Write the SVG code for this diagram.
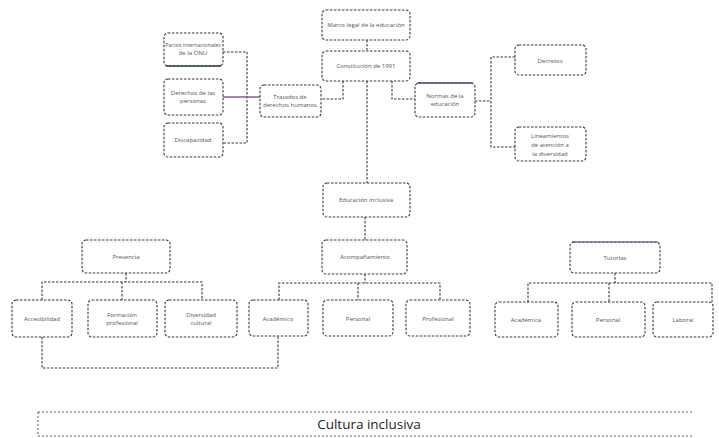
<svg xmlns="http://www.w3.org/2000/svg" width="719" height="438" viewBox="0 0 719 438">
<style>
.b{fill:#fff;stroke:#3a3a3a;stroke-width:1.1;stroke-dasharray:2.5 1.5}
.c{fill:none;stroke:#3a3a3a;stroke-width:1.1;stroke-dasharray:2.5 1.5}
.t{font-family:"Open Sans","DejaVu Sans",sans-serif;font-size:6px;fill:#555;text-anchor:middle}
.big{font-family:"Open Sans","DejaVu Sans",sans-serif;font-size:13.5px;fill:#222;text-anchor:middle}
</style>
<rect width="719" height="438" fill="#fff"/>
<g id="connectors">
<path class="c" d="M367 40V50"/>
<path class="c" d="M343 81V99H321"/>
<path class="c" d="M392 81V99H415"/>
<path class="c" d="M367 81V183"/>
<path class="c" d="M223 52H247V143H223"/>
<path class="c" d="M223 97H260" style="stroke:#8a5a9a;stroke-dasharray:none;stroke-width:1.4"/>
<path class="c" d="M475 101H491"/>
<path class="c" d="M515 57H491V147H515"/>
<path class="c" d="M365 217V240"/>
<path class="c" d="M126 273V282"/>
<path class="c" d="M42 300V282H202V300"/>
<path class="c" d="M122 282V300"/>
<path class="c" d="M365 274V283"/>
<path class="c" d="M279 300V283H440V300"/>
<path class="c" d="M358 283V300"/>
<path class="c" d="M615 273V283"/>
<path class="c" d="M528 302V283H712V302"/>
<path class="c" d="M609 283V302"/>
<path class="c" d="M42 337V368H278V336"/>
</g>
<g id="n-marco"><rect class="b" x="322" y="10" width="88" height="30" rx="4"/><text class="t" x="366" y="27">Marco legal de la educación</text></g>
<g id="n-constitucion"><rect class="b" x="322" y="51" width="88" height="30" rx="4"/><text class="t" x="366" y="68">Constitución de 1991</text></g>
<g id="n-tratados-int"><rect class="b" x="164" y="33" width="59" height="33" rx="4"/><path d="M166 66H221" stroke="#2d4a2d" stroke-width="1.4"/><text class="t" x="193" y="47" style="font-size:5.3px">Pactos internacionales</text><text class="t" x="193" y="55">de la ONU</text></g>
<g id="n-derechos"><rect class="b" x="164" y="79" width="59" height="36" rx="4"/><text class="t" x="193" y="95">Derechos de las</text><text class="t" x="193" y="103">personas</text></g>
<g id="n-discapacidad"><rect class="b" x="164" y="123" width="59" height="34" rx="4"/><text class="t" x="193" y="142">Discapacidad</text></g>
<g id="n-tratados"><rect class="b" x="260" y="85" width="61" height="32" rx="4"/><text class="t" x="290" y="99">Tratados de</text><text class="t" x="290" y="107">derechos humanos</text></g>
<g id="n-normas"><rect class="b" x="415" y="83" width="60" height="34" rx="4"/><path d="M417 83H473" stroke="#4a4a8a" stroke-width="1.3"/><text class="t" x="445" y="98">Normas de la</text><text class="t" x="445" y="106">educación</text></g>
<g id="n-decretos"><rect class="b" x="515" y="45" width="71" height="30" rx="4"/><text class="t" x="550" y="63">Decretos</text></g>
<g id="n-lineamientos"><rect class="b" x="515" y="127" width="71" height="34" rx="4"/><text class="t" x="550" y="138">Lineamientos</text><text class="t" x="550" y="147">de atención a</text><text class="t" x="550" y="156">la diversidad</text></g>
<g id="n-educacion"><rect class="b" x="323" y="183" width="87" height="34" rx="4"/><text class="t" x="366" y="202">Educación inclusiva</text></g>
<g id="n-acompanamiento"><rect class="b" x="322" y="240" width="85" height="34" rx="4"/><text class="t" x="365" y="259">Acompañamiento</text></g>
<g id="n-presencia"><rect class="b" x="82" y="240" width="88" height="33" rx="4"/><text class="t" x="126" y="259">Presencia</text></g>
<g id="n-tutorias"><rect class="b" x="570" y="242" width="90" height="31" rx="4"/><path d="M572 242H658" stroke="#6a4a8a" stroke-width="1.2"/><text class="t" x="615" y="260">Tutorías</text></g>
<g id="n-accesibilidad"><rect class="b" x="12" y="300" width="60" height="37" rx="4"/><text class="t" x="42" y="321">Accesibilidad</text></g>
<g id="n-formacion"><rect class="b" x="88" y="300" width="69" height="37" rx="4"/><text class="t" x="122" y="317">Formación</text><text class="t" x="122" y="325">profesional</text></g>
<g id="n-diversidad"><rect class="b" x="165" y="300" width="72" height="37" rx="4"/><text class="t" x="201" y="317">Diversidad</text><text class="t" x="201" y="325">cultural</text></g>
<g id="n-academico"><rect class="b" x="249" y="300" width="59" height="36" rx="4"/><text class="t" x="278" y="321">Académico</text></g>
<g id="n-personal"><rect class="b" x="323" y="300" width="70" height="36" rx="4"/><text class="t" x="358" y="321">Personal</text></g>
<g id="n-profesional"><rect class="b" x="406" y="300" width="64" height="36" rx="4"/><text class="t" x="438" y="321">Profesional</text></g>
<g id="n-academica"><rect class="b" x="495" y="302" width="63" height="35" rx="4"/><text class="t" x="526" y="322">Académica</text></g>
<g id="n-personal2"><rect class="b" x="572" y="302" width="73" height="35" rx="4"/><text class="t" x="608" y="322">Personal</text></g>
<g id="n-laboral"><rect class="b" x="653" y="302" width="60" height="35" rx="4"/><text class="t" x="683" y="322">Laboral</text></g>
<g id="n-cultura">
<path class="c" d="M38 412H693M38 436H693M38 412V436" style="stroke:#666;stroke-dasharray:2 2"/>
<text class="big" x="369" y="429">Cultura inclusiva</text>
</g>
</svg>
